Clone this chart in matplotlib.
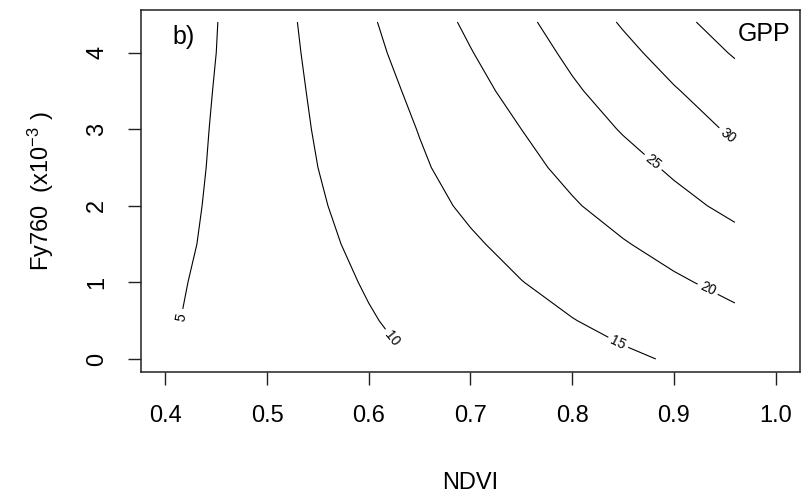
import numpy as np
import matplotlib
matplotlib.use("Agg")
import matplotlib.pyplot as plt

plt.rcParams['font.family'] = ['Liberation Sans', 'DejaVu Sans']
plt.rcParams['mathtext.fontset'] = 'custom'
plt.rcParams['mathtext.rm'] = 'Liberation Sans'
plt.rcParams['mathtext.it'] = 'Liberation Sans'

# ---- data ----
ndvi = [0.40, 0.45, 0.50, 0.55, 0.60, 0.65, 0.70, 0.75, 0.80, 0.85, 0.90, 0.96]
fy760 = [0.0, 0.5, 1.0, 1.5, 2.0, 2.5, 3.0, 3.5, 4.0, 4.4]
nan = np.nan
gpp_fy00 = [nan, nan, nan, nan, nan, 10.30, 11.31, 12.32, 13.34, 14.35, 15.36, 16.58]
gpp_fy05 = [4.62, 5.90, 7.18, 8.46, 9.74, 11.02, 12.30, 13.58, 14.87, 16.15, 17.43, 18.97]
gpp_fy10 = [4.34, 5.83, 7.32, 8.81, 10.31, 11.84, 13.37, 14.91, 16.41, 17.90, 19.40, 21.20]
gpp_fy15 = [3.91, 5.67, 7.44, 9.20, 10.96, 12.72, 14.48, 16.23, 17.98, 19.72, 21.47, 23.56]
gpp_fy20 = [3.55, 5.56, 7.58, 9.60, 11.63, 13.67, 15.69, 17.65, 19.61, 21.63, 23.66, 26.10]
gpp_fy25 = [3.18, 5.45, 7.73, 10.00, 12.25, 14.50, 16.68, 18.84, 21.06, 23.35, 25.67, 28.52]
gpp_fy30 = [2.86, 5.35, 7.84, 10.32, 12.73, 15.15, 17.57, 20.00, 22.67, 25.32, 27.76, 30.68]
gpp_fy35 = [2.47, 5.20, 7.93, 10.63, 13.28, 15.94, 18.61, 21.43, 24.40, 27.07, 29.66, 32.77]
gpp_fy40 = [2.00, 5.00, 8.01, 11.00, 13.94, 16.88, 19.82, 22.88, 25.91, 28.83, 31.81, 35.42]
gpp_fy44 = [1.72, 4.90, 8.10, 11.29, 14.46, 17.64, 20.82, 23.99, 27.20, 30.43, 33.60, 37.41]
levels = [5, 10, 15, 20, 25, 30, 35]
xticks = [0.4, 0.5, 0.6, 0.7, 0.8, 0.9, 1.0]
xticklabels = ["0.4", "0.5", "0.6", "0.7", "0.8", "0.9", "1.0"]
yticks = [0, 1, 2, 3, 4]
yticklabels = ["0", "1", "2", "3", "4"]

gpp = np.array([gpp_fy00, gpp_fy05, gpp_fy10, gpp_fy15, gpp_fy20,
                gpp_fy25, gpp_fy30, gpp_fy35, gpp_fy40, gpp_fy44])
Z = np.ma.masked_invalid(gpp)

fig = plt.figure(figsize=(8.09, 4.98), dpi=100)
ax = fig.add_axes([141/809, 1-372/498, (800-141)/809, (372-10)/498])

cs = ax.contour(ndvi, fy760, Z, levels=levels, colors='black',
                linewidths=0.8, corner_mask=True)
label_pos = [(0.415, 0.55), (0.625, 0.2), (0.845, 0.21),
             (0.932, 0.875), (0.879, 2.56), (0.952, 2.9)]
ax.clabel(cs, levels=levels[:-1], fmt='%d', fontsize=10, inline=True,
          inline_spacing=5, manual=label_pos)

ax.set_xlim(0.376, 1.024)
ax.set_ylim(-0.17, 4.557)
ax.set_xticks(xticks)
ax.set_xticklabels(xticklabels)
ax.set_yticks(yticks)
ax.set_yticklabels(yticklabels, rotation=90, va='center')
ax.tick_params(axis='both', length=9.5, width=1.0, color='#222222',
               labelsize=17, pad=14)
for s in ax.spines.values():
    s.set_color('#222222')
    s.set_linewidth(1.1)

ax.set_xlabel('NDVI', fontsize=17, labelpad=33)
ax.set_ylabel(r'Fy760  (x10$^{-3}$ )', fontsize=17, labelpad=22)

ax.text(0.047, 0.925, 'b)', transform=ax.transAxes, fontsize=18,
        ha='left', va='center')
ax.text(0.985, 0.935, 'GPP', transform=ax.transAxes, fontsize=18,
        ha='right', va='center')

fig.savefig('out.png', dpi=100)
